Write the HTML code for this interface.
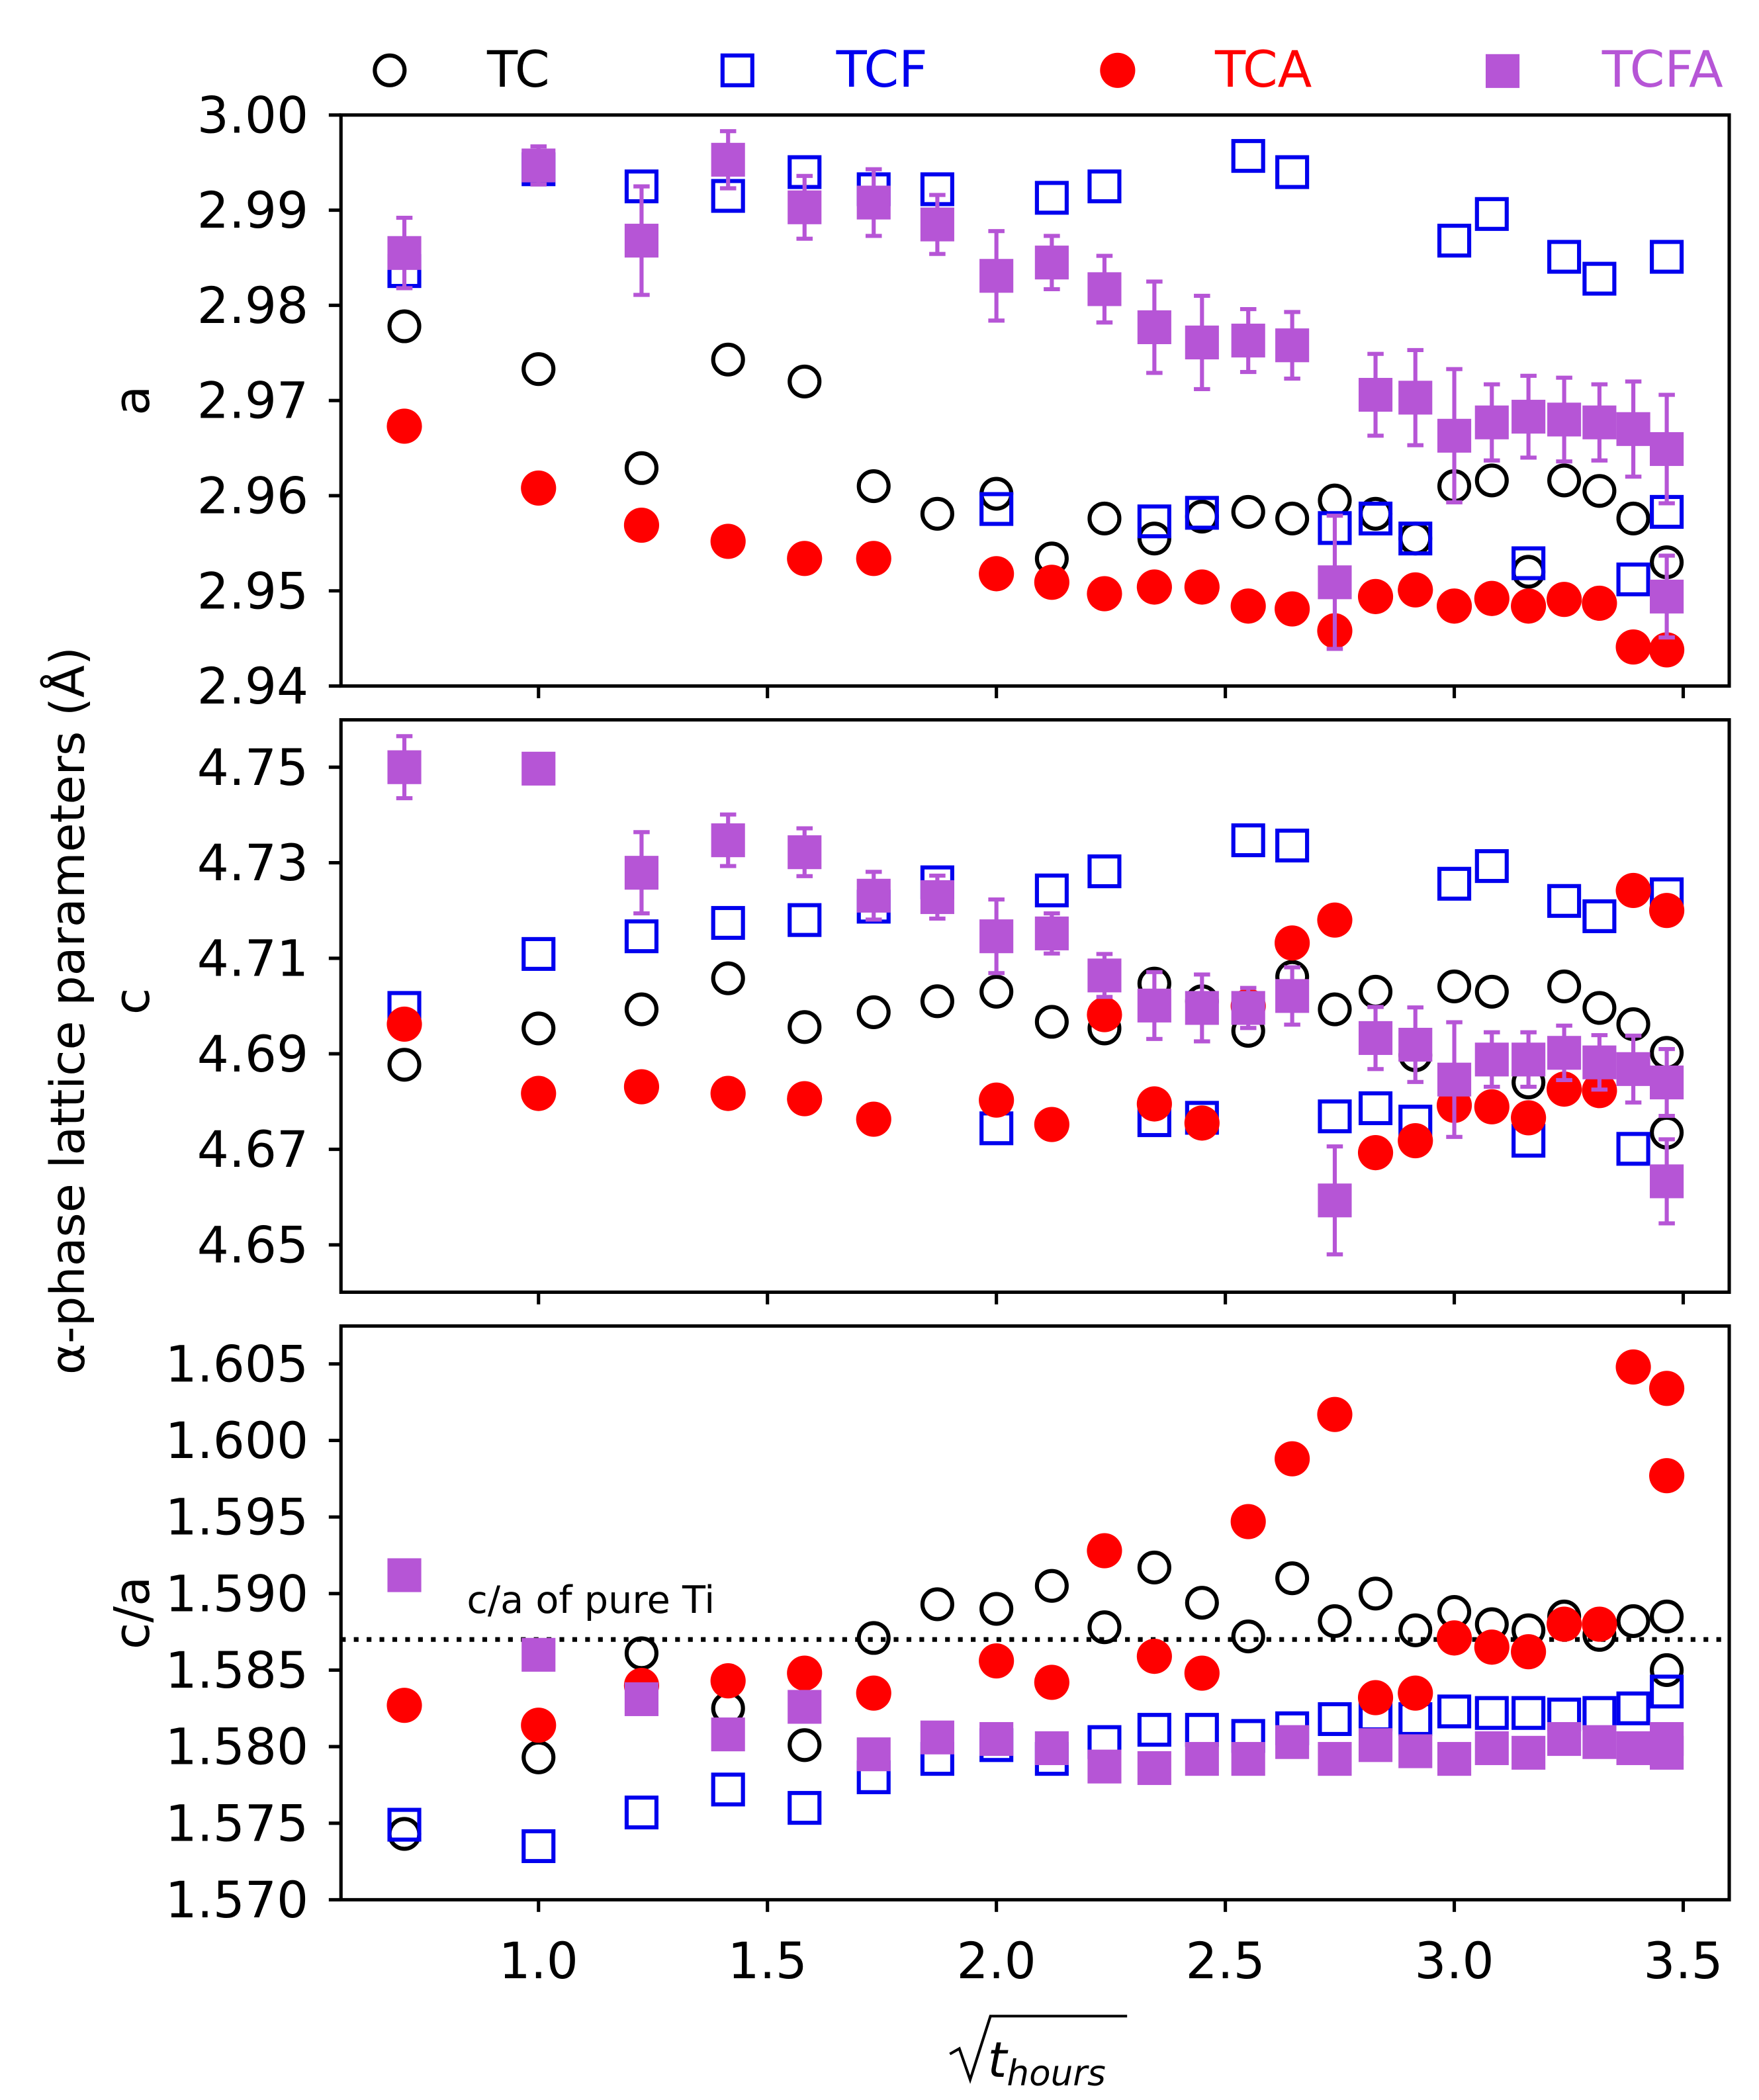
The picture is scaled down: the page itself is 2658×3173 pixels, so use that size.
<!DOCTYPE html>
<html><head><meta charset="utf-8"><style>
html,body{margin:0;padding:0;background:#fff;}
svg{display:block;font-family:"DejaVu Sans","Liberation Sans",sans-serif;}
</style></head><body>
<svg id="chart" width="2658" height="3173" viewBox="0 0 1300 1552" preserveAspectRatio="none" xmlns="http://www.w3.org/2000/svg">
<g id="legend">
  <g><circle cx="288" cy="52" r="11" fill="none" stroke="#000" stroke-width="3"/><text x="360" y="64" font-size="37" fill="#000">TC</text></g>
  <g><rect x="534" y="41" width="22" height="22" fill="none" stroke="#0000ee" stroke-width="3"/><text x="618" y="64" font-size="37" fill="#0000ee">TCF</text></g>
  <g><circle cx="826" cy="52" r="13" fill="#f00"/><text x="898" y="64" font-size="37" fill="#f00">TCA</text></g>
  <g><rect x="1098" y="40" width="25" height="25" fill="#b655d6"/><text x="1184" y="64" font-size="37" fill="#b655d6">TCFA</text></g>
</g>
<text transform="translate(62,747) rotate(-90)" text-anchor="middle" font-size="35">α-phase lattice parameters (Å)</text>
<text x="730" y="1535" font-size="36" font-style="italic">t<tspan font-size="26" dy="6">hours</tspan></text>
<path d="M702 1518 L709 1514 L717 1537 L732 1490 L833 1490" fill="none" stroke="#000" stroke-width="2"/>
</svg>
<script>
// x values (sqrt hours)
const xsMain = [0.707,1,1.225,1.414,1.581,1.732,1.871,2,2.121,2.236,2.345,2.449,2.55,2.646,2.739,2.828,2.915,3,3.082,3.162,3.24,3.317,3.391,3.464];
const xTicks = [1.0,1.5,2.0,2.5,3.0,3.5];
const xTickLabels = ["1.0","1.5","2.0","2.5","3.0","3.5"];

// Panel a
const aTC_x = xsMain.concat([]);
const aTC = [2.9778,2.9733,2.9629,2.9743,2.9720,2.9610,2.9581,2.9602,2.9534,2.9576,2.9555,2.9578,2.9583,2.9576,2.9595,2.9581,2.9555,2.9610,2.9616,2.9520,2.9616,2.9605,2.9576,2.9530];
const aTCF_x = xsMain.concat([3.464]);
const aTCF = [2.9836,2.9943,2.9925,2.9915,2.9940,2.9922,2.9922,2.9586,2.9913,2.9925,2.9573,2.9582,2.9957,2.9940,2.9566,2.9576,2.9555,2.9868,2.9896,2.9529,2.9851,2.9828,2.9512,2.9583,2.9851];
const aTCA_x = [0.707,1,1.225,1.414,1.581,1.732,2,2.121,2.236,2.345,2.449,2.55,2.646,2.739,2.828,2.915,3,3.082,3.162,3.24,3.317,3.391,3.464];
const aTCA = [2.9673,2.9608,2.9569,2.9552,2.9534,2.9534,2.9518,2.9509,2.9497,2.9504,2.9504,2.9484,2.9481,2.9458,2.9494,2.9501,2.9484,2.9492,2.9484,2.9491,2.9487,2.9441,2.9438];
const aTCFA_x = xsMain.concat([3.464]);
const aTCFA = [2.9855,2.9947,2.9868,2.9953,2.9903,2.9908,2.9885,2.9831,2.9845,2.9817,2.9777,2.9761,2.9763,2.9758,2.9509,2.9706,2.9703,2.9663,2.9677,2.9683,2.9680,2.9677,2.9670,2.9649,2.9494];
const aTCFA_err = [0.0037,0.002,0.0057,0.003,0.0033,0.0035,0.0031,0.0047,0.0028,0.0035,0.0048,0.0049,0.0033,0.0035,0.007,0.0043,0.005,0.007,0.004,0.0043,0.0044,0.004,0.005,0.0057,0.0043];

// Panel c
const cTC_x = xsMain.concat([3.464]);
const cTC = [4.6877,4.6953,4.6993,4.7058,4.6956,4.6987,4.7010,4.7030,4.6967,4.6953,4.7047,4.7010,4.6948,4.7061,4.6993,4.7030,4.6897,4.7041,4.7030,4.6840,4.7041,4.6996,4.6962,4.6902,4.6735];
const cTCF_x = xsMain.concat([]);
const cTCF = [4.6996,4.7109,4.7146,4.7174,4.7180,4.7208,4.7259,4.6744,4.7242,4.7282,4.6761,4.6766,4.7347,4.7336,4.6769,4.6786,4.6758,4.7256,4.7293,4.6718,4.7220,4.7188,4.6701,4.7234];
const cTCA_x = aTCA_x.concat([]);
const cTCA = [4.6962,4.6817,4.6831,4.6817,4.6806,4.6763,4.6803,4.6752,4.6982,4.6795,4.6755,4.7000,4.7132,4.7180,4.6693,4.6718,4.6792,4.6789,4.6766,4.6826,4.6823,4.7242,4.7200];
const cTCFA_x = xsMain.concat([3.464]);
const cTCFA = [4.7500,4.7497,4.7279,4.7347,4.7322,4.7231,4.7228,4.7146,4.7152,4.7064,4.7001,4.6996,4.6996,4.7021,4.6593,4.6933,4.6919,4.6846,4.6888,4.6888,4.6902,4.6882,4.6868,4.6840,4.6633];
const cTCFA_err = [0.0065,0.002,0.0085,0.0054,0.005,0.005,0.0045,0.0077,0.0042,0.0045,0.007,0.007,0.0042,0.006,0.0113,0.0065,0.0078,0.012,0.0057,0.0057,0.0057,0.0057,0.007,0.007,0.0088];

// Panel c/a
const rTC_x = xsMain.concat([3.464]);
const rTC = [1.5743,1.5793,1.5861,1.5825,1.5801,1.5871,1.5893,1.5890,1.5905,1.5878,1.5917,1.5894,1.5872,1.5910,1.5882,1.5900,1.5876,1.5888,1.5880,1.5876,1.5885,1.5873,1.5882,1.5885,1.5850];
const rTCF_x = xsMain.concat([]);
const rTCF = [1.5749,1.5735,1.5757,1.5772,1.5760,1.5780,1.5792,1.5801,1.5792,1.5803,1.5811,1.5811,1.5807,1.5812,1.5818,1.5821,1.5818,1.5823,1.5822,1.5822,1.5821,1.5822,1.5825,1.5836];
const rTCA_x = aTCA_x.concat([3.464]);
const rTCA = [1.5827,1.5814,1.5840,1.5843,1.5848,1.5835,1.5856,1.5842,1.5928,1.5859,1.5848,1.5947,1.5988,1.6017,1.5832,1.5835,1.5871,1.5865,1.5862,1.5880,1.5880,1.6048,1.6034,1.5977];
const rTCFA_x = xsMain.concat([3.464]);
const rTCFA = [1.5912,1.5860,1.5831,1.5808,1.5826,1.5795,1.5806,1.5805,1.5799,1.5787,1.5786,1.5792,1.5792,1.5803,1.5792,1.5801,1.5797,1.5792,1.5799,1.5796,1.5805,1.5803,1.5799,1.5805,1.5796];

const aTicks = [2.94,2.95,2.96,2.97,2.98,2.99,3.00];
const aTickLabels = ["2.94","2.95","2.96","2.97","2.98","2.99","3.00"];
const cTicks = [4.65,4.67,4.69,4.71,4.73,4.75];
const cTickLabels = ["4.65","4.67","4.69","4.71","4.73","4.75"];
const rTicks = [1.570,1.575,1.580,1.585,1.590,1.595,1.600,1.605];
const rTickLabels = ["1.570","1.575","1.580","1.585","1.590","1.595","1.600","1.605"];
const pureTi = 1.587;

const svg = document.getElementById('chart');
const NS = 'http://www.w3.org/2000/svg';
const L = 252, R = 1278;
function xS(v){ return 398 + (v - 1.0) * 338.4; }
function mk(tag, attrs, parent){
  const e = document.createElementNS(NS, tag);
  for (const k in attrs) e.setAttribute(k, attrs[k]);
  (parent || svg).appendChild(e);
  return e;
}
const panels = [
  {name:'a', top:85, bot:507, v0:3.00, v1:2.94, ticks:aTicks, labels:aTickLabels, label:'a', ly:296,
   series:[[aTC_x,aTC,'tc'],[aTCF_x,aTCF,'tcf'],[aTCA_x,aTCA,'tca'],[aTCFA_x,aTCFA,'tcfa',aTCFA_err]]},
  {name:'c', top:532, bot:955, v0:4.75, v1:4.65, ticks:cTicks, labels:cTickLabels, label:'c', ly:740,
   series:[[cTC_x,cTC,'tc'],[cTCF_x,cTCF,'tcf'],[cTCA_x,cTCA,'tca'],[cTCFA_x,cTCFA,'tcfa',cTCFA_err]]},
  {name:'ca', top:980, bot:1404, v0:1.605, v1:1.570, ticks:rTicks, labels:rTickLabels, label:'c/a', ly:1192,
   series:[[rTC_x,rTC,'tc'],[rTCF_x,rTCF,'tcf'],[rTCA_x,rTCA,'tca'],[rTCFA_x,rTCFA,'tcfa']]}
];
const pixTop = {a:85, c:567, ca:1008};
const pixBot = {a:507, c:920, ca:1404};
panels.forEach(function(p, pi){
  const g = mk('g', {});
  
  
  const yT = pixTop[p.name], yB = pixBot[p.name];
  const yS = function(v){ return yT + (p.v0 - v) / (p.v0 - p.v1) * (yB - yT); };
  const clipId = 'clip' + pi;
  const cp = mk('clipPath', {id: clipId}, g);
  mk('rect', {x:L, y:p.top, width:R-L, height:p.bot-p.top}, cp);
  p.ticks.forEach(function(t, i){
    const y = yS(t);
    const tk = mk('line', {x1:L-9, x2:L, y1:y, y2:y, stroke:'#000', 'stroke-width':2.5}, g);
    
    
    const tl = mk('text', {x:L-24, y:y+13, 'text-anchor':'end', 'font-size':37}, g);
    
    
    tl.textContent = p.labels[i];
  });
  xTicks.forEach(function(t, i){
    const x = xS(t);
    const tk = mk('line', {x1:x, x2:x, y1:p.bot, y2:p.bot+9, stroke:'#000', 'stroke-width':2.5}, g);
    
    
    if (pi === 2) {
      const tl = mk('text', {x:x, y:1462, 'text-anchor':'middle', 'font-size':37}, g);
      
      
      tl.textContent = xTickLabels[i];
    }
  });
  const pl = mk('text', {transform:'translate(110,' + p.ly + ') rotate(-90)', 'text-anchor':'middle', 'font-size':36}, g);
  
  
  pl.textContent = p.label;
  const mg = mk('g', {'clip-path':'url(#' + clipId + ')'}, g);
  if (pi === 2) {
    const dl = mk('line', {x1:L, x2:R, y1:yS(pureTi), y2:yS(pureTi), stroke:'#000', 'stroke-width':3.5, 'stroke-dasharray':'3.5 6'}, mg);
    
    
    const dt = mk('text', {x:345, y:1192, 'font-size':28}, g);
    
    
    dt.textContent = 'c/a of pure Ti';
  }
  p.series.forEach(function(s){
    const xs = s[0], ys = s[1], kind = s[2], err = s[3];
    ys.forEach(function(v, i){
      const cx = xS(xs[i]), cy = yS(v);
      let m;
      if (err) {
        const y1 = yS(v + err[i]), y2 = yS(v - err[i]);
        const eb = mk('path', {d:'M'+cx+' '+y1+'V'+y2+'M'+(cx-6)+' '+y1+'H'+(cx+6)+'M'+(cx-6)+' '+y2+'H'+(cx+6), stroke:'#b655d6', 'stroke-width':3, fill:'none'}, mg);
        
        
      }
      if (kind === 'tc') m = mk('circle', {cx:cx, cy:cy, r:11, fill:'none', stroke:'#000', 'stroke-width':3}, mg);
      else if (kind === 'tcf') m = mk('rect', {x:cx-11, y:cy-11, width:22, height:22, fill:'none', stroke:'#0000ee', 'stroke-width':3}, mg);
      else if (kind === 'tca') m = mk('circle', {cx:cx, cy:cy, r:13, fill:'#f00'}, mg);
      else m = mk('rect', {x:cx-12.5, y:cy-12.5, width:25, height:25, fill:'#b655d6'}, mg);
      
      
    });
  });
  const fr = mk('rect', {x:L, y:p.top, width:R-L, height:p.bot-p.top, fill:'none', stroke:'#000', 'stroke-width':2.5}, g);
  
  
});
</script>
</body></html>
